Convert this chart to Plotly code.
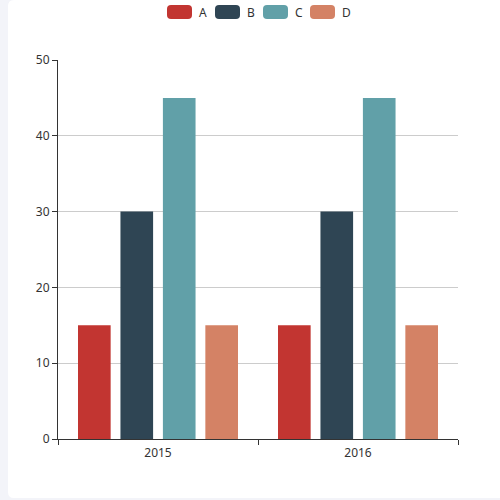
import plotly.graph_objects as go

# chart data
categories = ["2015", "2016"]
series_names = ["A", "B", "C", "D"]
values_a = [15, 15]
values_b = [30, 30]
values_c = [45, 45]
values_d = [15, 15]
y_ticks = [0, 10, 20, 30, 40, 50]

colors = ["#c23531", "#2f4554", "#61a0a8", "#d48265"]
series_values = [values_a, values_b, values_c, values_d]

W, H = 500, 500
ML, MR, MT, MB = 58, 42, 60, 61
PW, PH = W - ML - MR, H - MT - MB


def px_x(x):
    return (x - ML) / PW


def px_y(y):
    return (H - MB - y) / PH


def rounded_rect(x0, y0, x1, y1, r):
    # pixel box (top-left origin) -> svg path in paper coordinates
    pts = [
        ("M", x0 + r, y0), ("L", x1 - r, y0), ("Q", x1, y0, x1, y0 + r),
        ("L", x1, y1 - r), ("Q", x1, y1, x1 - r, y1),
        ("L", x0 + r, y1), ("Q", x0, y1, x0, y1 - r),
        ("L", x0, y0 + r), ("Q", x0, y0, x0 + r, y0),
    ]
    out = []
    for p in pts:
        cmd, coords = p[0], p[1:]
        s = cmd
        for i in range(0, len(coords), 2):
            s += f" {px_x(coords[i]):.5f},{px_y(coords[i + 1]):.5f}"
        out.append(s)
    return " ".join(out) + " Z"


fig = go.Figure()
for name, vals, col in zip(series_names, series_values, colors):
    fig.add_trace(go.Bar(
        x=categories, y=vals, name=name,
        marker=dict(color=col, line=dict(width=0)),
        showlegend=False,
    ))

shapes = [
    # white card on the lavender page
    dict(type="path", xref="paper", yref="paper", layer="below",
         path=rounded_rect(8, 0, 520, 498, 6),
         fillcolor="white", line=dict(width=0)),
]
annotations = []

# legend drawn as rounded swatches + labels
legend_x = [167, 215, 263, 310]
for name, col, lx in zip(series_names, colors, legend_x):
    shapes.append(dict(type="path", xref="paper", yref="paper",
                       path=rounded_rect(lx, 5, lx + 25, 19, 4),
                       fillcolor=col, line=dict(width=0)))
    annotations.append(dict(text=name, xref="paper", yref="paper",
                            x=px_x(lx + 30), y=px_y(12),
                            xanchor="left", yanchor="middle", showarrow=False,
                            font=dict(size=12, color="#333")))

fig.update_layout(
    width=W, height=H,
    margin=dict(l=ML, r=MR, t=MT, b=MB),
    paper_bgcolor="#f3f4f9",
    plot_bgcolor="rgba(0,0,0,0)",
    font=dict(family="Noto Sans, DejaVu Sans, sans-serif", size=12, color="#333"),
    barmode="group",
    # 20% category gap, gap between bars = 30% of a bar width
    bargap=0.151,
    bargroupgap=0.2308,
    shapes=shapes,
    annotations=annotations,
    xaxis=dict(
        type="category",
        showline=True, linecolor="#333", linewidth=1,
        ticks="outside", ticklen=5, tickcolor="#333",
        tickson="boundaries",
        ticklabelstandoff=3,
        showgrid=False, zeroline=False,
        tickfont=dict(size=12, color="#333"),
    ),
    yaxis=dict(
        range=[0, 50], tickvals=y_ticks,
        showline=True, linecolor="#333", linewidth=1,
        ticks="outside", ticklen=5, tickcolor="#333",
        showgrid=True, gridcolor="#ccc", gridwidth=1,
        zeroline=False,
        tickfont=dict(size=12, color="#333"),
    ),
)

# drop the default page margin so the figure sits at the window corner
fig.write_html("out.html", config={"displayModeBar": False},
               post_script="document.body.style.margin='0';")
